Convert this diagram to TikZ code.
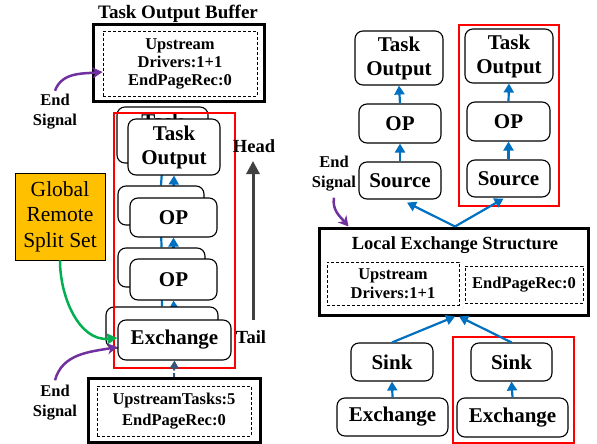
\documentclass[tikz,border=0pt]{standalone}
\usepackage{fontspec}
\setmainfont{Liberation Serif}
\usetikzlibrary{arrows.meta,calc}
\pgfdeclarelayer{bg}
\pgfsetlayers{bg,main}
\definecolor{arrblue}{RGB}{0,112,192}
\definecolor{sigpurple}{RGB}{112,48,160}
\definecolor{sgreen}{RGB}{0,176,80}
\definecolor{gold}{RGB}{255,192,0}
\definecolor{hgray}{RGB}{64,64,64}
\definecolor{dslate}{RGB}{56,86,120}
\begin{document}
\begin{tikzpicture}[x=1pt,y=-1pt,
  opbox/.style={draw=black, line width=1.1pt, rounded corners=8pt, fill=white, inner sep=0pt, align=center,
    font=\fontsize{21}{24}\selectfont\bfseries},
  thickbox/.style={draw=black, line width=3pt, fill=white, inner sep=0pt},
  dashbox/.style={draw=black, line width=0.9pt, dash pattern=on 3pt off 2pt, inner sep=0pt, align=center,
    font=\fontsize{16.5}{18}\selectfont\bfseries},
  redbox/.style={draw=red, line width=2.5pt, inner sep=0pt},
  sigtext/.style={inner sep=0pt, align=center, font=\fontsize{16.5}{20}\selectfont\bfseries},
  barrow/.style={draw=arrblue, line width=2.2pt, -{Triangle[width=10pt,length=9pt]}},
  parrow/.style={draw=sigpurple, line width=2.5pt, -{Stealth[width=11pt,length=10pt,inset=3pt]}},
  garrow/.style={draw=sgreen, line width=2.5pt, -{Triangle[width=10pt,length=10pt]}},
]
\useasboundingbox (0,0) rectangle (597,444);

% ---------------- Left part ----------------
\node[inner sep=0pt, font=\fontsize{19}{22}\selectfont\bfseries] (tobt) at (178,14) {Task Output Buffer};
\node[thickbox, minimum width=171pt, minimum height=76pt] (tob) at (178.5,63) {};
\node[dashbox, minimum width=154pt, minimum height=65pt] (tobin) at (180,63.5) {Upstream\\Drivers:1+1\\EndPageRec:0};

% stacked boxes (back)
\node[opbox, minimum width=91pt, minimum height=56pt] (toB) at (162.5,135) {Task\\Output};
\node[opbox, minimum width=86pt, minimum height=39pt] (op1B) at (161,205.5) {};
\node[opbox, minimum width=87pt, minimum height=39pt] (op2B) at (161.5,267.5) {};
\node[opbox, minimum width=112pt, minimum height=41pt] (exB) at (162,327.5) {};
% stacked boxes (front)
\node[opbox, minimum width=92pt, minimum height=56pt] (toF) at (174,147) {Task\\Output};
\node[opbox, minimum width=87pt, minimum height=39pt] (op1F) at (173.5,217.5) {OP};
\node[opbox, minimum width=87pt, minimum height=41pt] (op2F) at (173.5,279.5) {OP};
\node[opbox, minimum width=113pt, minimum height=40pt] (exF) at (174.5,340) {Exchange};

\begin{pgfonlayer}{bg}
  \draw[barrow] (op1B.north) -- (toB.south);
  \draw[barrow] (op2B.north) -- (op1B.south);
  \draw[barrow] (exB.north) -- (op2B.south);
  \draw[barrow] (op1F.north) -- (toF.south);
  \draw[barrow] (op2F.north) -- (op1F.south);
  \draw[barrow] (exF.north) -- (op2F.south);
\end{pgfonlayer}

\node[redbox, minimum width=121pt, minimum height=255pt] (red1) at (174.5,240.5) {};

% bottom buffer
\node[thickbox, minimum width=172pt, minimum height=64pt] (bot) at (174,410.5) {};
\node[dashbox, minimum width=154pt, minimum height=50pt, font=\fontsize{16.5}{21}\selectfont\bfseries] (botin) at (174,411) {UpstreamTasks:5\\EndPageRec:0};
\draw[draw=dslate, line width=2pt, dash pattern=on 4pt off 2.5pt, -{Triangle[width=9pt,length=8pt]}] (bot.north) -- (exF.south);

% Global Remote Split Set
\node[draw=black, line width=0.9pt, fill=gold, inner sep=0pt, align=center, minimum width=90pt, minimum height=87pt,
  font=\fontsize{21.5}{25.5}\selectfont] (grs) at (60,216.5) {Global\\Remote\\Split Set};
\draw[garrow] (grs.south) to[out=-90,in=185] ([yshift=2pt]exF.west);

% End signals
\node[sigtext] (es1) at (55,111.5) {End\\Signal};
\draw[parrow] ([yshift=3pt]es1.north) to[out=70,in=185] ([yshift=-8.5pt]tobin.west);
\node[sigtext] (es2) at (55,403) {End\\Signal};
\draw[parrow] ([yshift=5pt]es2.north) to[out=75,in=190] ([yshift=-7pt]exF.west);

% Head / Tail
\node[inner sep=0pt, font=\fontsize{18.5}{22}\selectfont\bfseries] (head) at (254,146) {Head};
\node[inner sep=0pt, font=\fontsize{18.5}{22}\selectfont\bfseries] (tail) at (251,337) {Tail};
\coordinate (tailpt) at (253,320);
\coordinate (headpt) at (253,161);
\draw[draw=hgray, line width=3pt, -{Triangle[width=13pt,length=13pt]}] (tailpt) -- (headpt);

% ---------------- Right part ----------------
\node[opbox, minimum width=88pt, minimum height=54pt] (to1) at (399,58) {Task\\Output};
\node[opbox, minimum width=82pt, minimum height=39pt] (op1) at (400,123.5) {OP};
\node[opbox, minimum width=82pt, minimum height=37pt] (src1) at (400,180.5) {Source};
\node[opbox, minimum width=88pt, minimum height=54pt] (to2) at (509,56) {Task\\Output};
\node[opbox, minimum width=83pt, minimum height=39pt] (op2) at (508.5,121.5) {OP};
\node[opbox, minimum width=83pt, minimum height=37pt] (src2) at (508.5,178.5) {Source};
\node[redbox, minimum width=100pt, minimum height=181pt] (red2) at (509,115.5) {};

\draw[barrow] (op1.north) -- (to1.south);
\draw[barrow] (src1.north) -- (op1.south);
\draw[barrow] (op2.north) -- (to2.south);
\draw[barrow] (src2.north) -- (op2.south);

\node[thickbox, minimum width=269pt, minimum height=87pt] (les) at (453.5,271.5) {};
\node[inner sep=0pt, font=\fontsize{18.5}{22}\selectfont\bfseries] (lest) at (455,245) {Local Exchange Structure};
\node[dashbox, minimum width=132pt, minimum height=43pt, font=\fontsize{16.5}{19}\selectfont\bfseries] (lesd1) at (393,283.5) {Upstream\\Drivers:1+1};
\node[dashbox, minimum width=118pt, minimum height=37pt] (lesd2) at (524,284.5) {EndPageRec:0};

\coordinate (apex) at ([xshift=1.5pt]les.north);
\draw[barrow] (apex) -- ([xshift=7pt,yshift=-3pt]src1.south);
\draw[barrow] (apex) -- ([xshift=-5pt,yshift=-1pt]src2.south);

\node[sigtext] (es3) at (334,174) {End\\Signal};
\draw[parrow] ([yshift=-6pt]es3.south) to[out=-100,in=130] ([xshift=31pt]les.north west);

\node[opbox, minimum width=82pt, minimum height=38pt] (sink1) at (392,362) {Sink};
\node[opbox, minimum width=111pt, minimum height=38pt] (ex1) at (392.5,417) {Exchange};
\node[opbox, minimum width=81pt, minimum height=38pt] (sink2) at (511.5,362) {Sink};
\node[opbox, minimum width=111pt, minimum height=39pt] (ex2) at (512.5,417.5) {Exchange};
\node[redbox, minimum width=121pt, minimum height=106pt] (red3) at (513.5,390) {};

\draw[barrow] (ex1.north) -- (sink1.south);
\draw[barrow] (ex2.north) -- (sink2.south);
\draw[barrow] (sink1.north) -- ([xshift=1.5pt]les.south);
\draw[barrow] (sink2.north) -- ([xshift=5.5pt]les.south);
\end{tikzpicture}
\end{document}
